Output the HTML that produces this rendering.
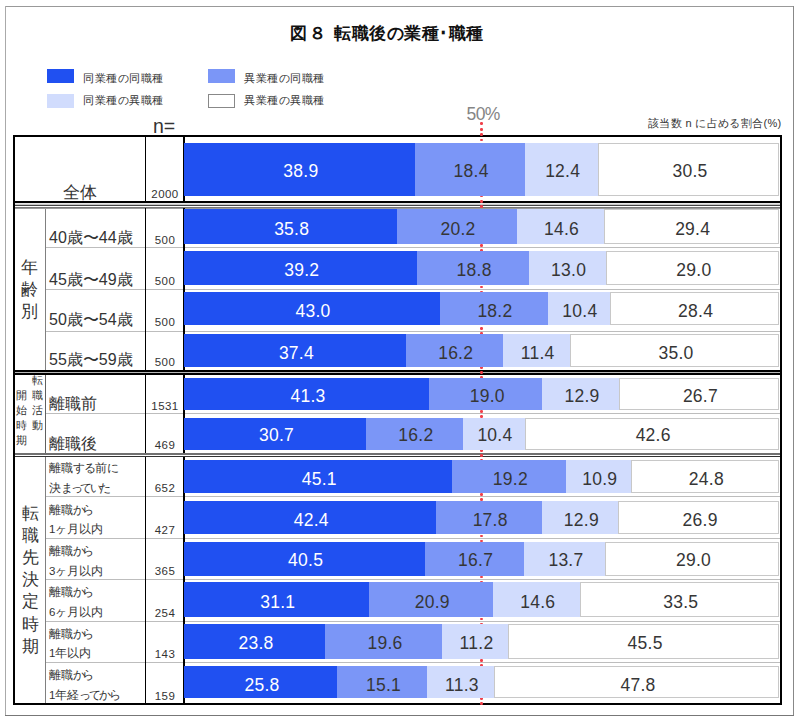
<!DOCTYPE html>
<html><head><meta charset="utf-8">
<style>
*{margin:0;padding:0;box-sizing:border-box}
html,body{width:800px;height:720px;overflow:hidden;background:#fff}
body{position:relative;font-family:"Liberation Sans",sans-serif;color:#333}
.a{position:absolute}
.t{position:absolute;white-space:nowrap;line-height:1}
.bl{position:absolute;white-space:nowrap;line-height:1;font-size:17.5px;letter-spacing:0.25px;text-align:center;color:#363636}
.n{position:absolute;white-space:nowrap;line-height:1;font-size:11.5px;letter-spacing:0.45px;text-align:center;width:39px;left:145.5px;color:#333}
.lb{position:absolute;white-space:nowrap;line-height:1;font-size:16px;left:49px;color:#333}
.ls{position:absolute;white-space:nowrap;line-height:1;font-size:11.5px;left:49px;color:#333}
.g{position:absolute;background:#bdbdbd;height:1px}
.k{position:absolute;background:#000}
</style></head><body>

<div class="a" style="left:5px;top:6px;width:789px;height:1px;background:#999"></div>
<div class="a" style="left:5px;top:6px;width:1px;height:710px;background:#aaa"></div>
<div class="a" style="left:793px;top:6px;width:1px;height:710px;background:#888"></div>
<div class="a" style="left:5px;top:715px;width:789px;height:1px;background:#777"></div>
<div class="t" style="left:290px;top:24.8px;font-size:17px;font-weight:bold;color:#111">図</div>
<div class="t" style="left:309px;top:24.8px;font-size:17px;font-weight:bold;color:#111">８</div>
<div class="t" style="left:334px;top:24.8px;font-size:17px;font-weight:bold;color:#111;letter-spacing:0.5px">転職後の業種･職種</div>
<div class="a" style="left:47px;top:69px;width:27px;height:14px;background:#2050f1;"></div>
<div class="t" style="left:83.2px;top:72.5px;font-size:11px;letter-spacing:0.5px;color:#333">同業種の同職種</div>
<div class="a" style="left:208px;top:69px;width:27px;height:14px;background:#7b96f7;"></div>
<div class="t" style="left:244.2px;top:72.5px;font-size:11px;letter-spacing:0.5px;color:#333">異業種の同職種</div>
<div class="a" style="left:47px;top:94px;width:27px;height:14px;background:#d1dcfd;"></div>
<div class="t" style="left:83.2px;top:95.2px;font-size:11px;letter-spacing:0.5px;color:#333">同業種の異職種</div>
<div class="a" style="left:208px;top:94px;width:27px;height:14px;background:#ffffff;border:1px solid #888;"></div>
<div class="t" style="left:244.2px;top:95.2px;font-size:11px;letter-spacing:0.5px;color:#333">異業種の異職種</div>
<div class="t" style="left:153px;top:117px;font-size:19.5px;color:#333">n=</div>
<div class="t" style="left:466.5px;top:105.5px;font-size:17.5px;color:#858585;letter-spacing:-0.6px">50%</div>
<div class="t" style="left:648px;top:118px;font-size:11px;letter-spacing:0.35px;color:#333">該当数 n に占める割合(%)</div>
<div class="a" style="left:13px;top:135px;width:769px;height:570px;border:2px solid #000"></div>
<div class="k" style="left:15px;top:201px;width:765px;height:2px"></div>
<div class="a" style="left:15px;top:203px;width:765px;height:1px;background:#e6e6e6"></div>
<div class="a" style="left:15px;top:204px;width:765px;height:1px;background:#c8c8c8"></div>
<div class="a" style="left:15px;top:205px;width:765px;height:1px;background:#444"></div>
<div class="a" style="left:15px;top:207px;width:765px;height:1px;background:#777"></div>
<div class="a" style="left:15px;top:208px;width:765px;height:1px;background:#999"></div>
<div class="k" style="left:15px;top:370px;width:765px;height:2px"></div>
<div class="a" style="left:15px;top:372px;width:765px;height:1px;background:#b8b8b8"></div>
<div class="k" style="left:15px;top:373px;width:765px;height:2px"></div>
<div class="a" style="left:15px;top:453px;width:765px;height:2px;background:#707070"></div>
<div class="a" style="left:15px;top:456px;width:765px;height:1px;background:#333"></div>
<div class="g" style="left:46px;top:247px;width:734px"></div>
<div class="g" style="left:46px;top:289px;width:734px"></div>
<div class="g" style="left:46px;top:331px;width:734px"></div>
<div class="g" style="left:46px;top:413px;width:734px"></div>
<div class="g" style="left:46px;top:496px;width:734px"></div>
<div class="g" style="left:46px;top:538px;width:734px"></div>
<div class="g" style="left:46px;top:579px;width:734px"></div>
<div class="g" style="left:46px;top:621px;width:734px"></div>
<div class="g" style="left:46px;top:662px;width:734px"></div>
<div class="k" style="left:145px;top:137px;width:1px;height:64px"></div>
<div class="k" style="left:183px;top:137px;width:2px;height:64px"></div>
<div class="k" style="left:145px;top:208px;width:1px;height:162px"></div>
<div class="k" style="left:183px;top:208px;width:2px;height:162px"></div>
<div class="k" style="left:145px;top:375px;width:1px;height:78px"></div>
<div class="k" style="left:183px;top:375px;width:2px;height:78px"></div>
<div class="k" style="left:145px;top:457px;width:1px;height:246px"></div>
<div class="k" style="left:183px;top:457px;width:2px;height:246px"></div>
<div class="a" style="left:45px;top:209px;width:1px;height:161px;background:#808080"></div>
<div class="a" style="left:45px;top:375px;width:1px;height:78px;background:#606060"></div>
<div class="a" style="left:45px;top:457px;width:1px;height:246px;background:#808080"></div>
<div class="a" style="left:480.2px;top:122.40px;width:2.6px;height:2.7px;background:#f0404a;border-radius:1.2px"></div><div class="a" style="left:480.2px;top:127.90px;width:2.6px;height:2.7px;background:#f0404a;border-radius:1.2px"></div><div class="a" style="left:480.2px;top:133.30px;width:2.6px;height:2.7px;background:#f0404a;border-radius:1.2px"></div><div class="a" style="left:480.2px;top:138.75px;width:2.6px;height:2.7px;background:#f0404a;border-radius:1.2px"></div><div class="a" style="left:480.2px;top:194.65px;width:2.6px;height:2.7px;background:#f0404a;border-radius:1.2px"></div><div class="a" style="left:480.2px;top:199.85px;width:2.6px;height:2.7px;background:#f0404a;border-radius:1.2px"></div><div class="a" style="left:480.2px;top:205.15px;width:2.6px;height:2.7px;background:#f0404a;border-radius:1.2px"></div><div class="a" style="left:480.2px;top:366.15px;width:2.6px;height:2.7px;background:#f0404a;border-radius:1.2px"></div><div class="a" style="left:480.2px;top:371.15px;width:2.6px;height:2.7px;background:#f0404a;border-radius:1.2px"></div><div class="a" style="left:480.2px;top:376.15px;width:2.6px;height:2.7px;background:#f0404a;border-radius:1.2px"></div><div class="a" style="left:480.2px;top:449.15px;width:2.6px;height:2.7px;background:#f0404a;border-radius:1.2px"></div><div class="a" style="left:480.2px;top:454.15px;width:2.6px;height:2.7px;background:#f0404a;border-radius:1.2px"></div><div class="a" style="left:480.2px;top:459.15px;width:2.6px;height:2.7px;background:#f0404a;border-radius:1.2px"></div><div class="a" style="left:480.2px;top:696.95px;width:2.6px;height:2.7px;background:#f0404a;border-radius:1.2px"></div><div class="a" style="left:480.2px;top:701.95px;width:2.6px;height:2.7px;background:#f0404a;border-radius:1.2px"></div><div class="a" style="left:480.2px;top:243.85px;width:2.6px;height:2.7px;background:#f0404a;border-radius:1.2px"></div><div class="a" style="left:480.2px;top:248.95px;width:2.6px;height:2.7px;background:#f0404a;border-radius:1.2px"></div><div class="a" style="left:480.2px;top:285.60px;width:2.6px;height:2.7px;background:#f0404a;border-radius:1.2px"></div><div class="a" style="left:480.2px;top:290.70px;width:2.6px;height:2.7px;background:#f0404a;border-radius:1.2px"></div><div class="a" style="left:480.2px;top:327.10px;width:2.6px;height:2.7px;background:#f0404a;border-radius:1.2px"></div><div class="a" style="left:480.2px;top:332.20px;width:2.6px;height:2.7px;background:#f0404a;border-radius:1.2px"></div><div class="a" style="left:480.2px;top:410.10px;width:2.6px;height:2.7px;background:#f0404a;border-radius:1.2px"></div><div class="a" style="left:480.2px;top:415.20px;width:2.6px;height:2.7px;background:#f0404a;border-radius:1.2px"></div><div class="a" style="left:480.2px;top:492.85px;width:2.6px;height:2.7px;background:#f0404a;border-radius:1.2px"></div><div class="a" style="left:480.2px;top:497.95px;width:2.6px;height:2.7px;background:#f0404a;border-radius:1.2px"></div><div class="a" style="left:480.2px;top:534.50px;width:2.6px;height:2.7px;background:#f0404a;border-radius:1.2px"></div><div class="a" style="left:480.2px;top:539.60px;width:2.6px;height:2.7px;background:#f0404a;border-radius:1.2px"></div><div class="a" style="left:480.2px;top:575.60px;width:2.6px;height:2.7px;background:#f0404a;border-radius:1.2px"></div><div class="a" style="left:480.2px;top:580.70px;width:2.6px;height:2.7px;background:#f0404a;border-radius:1.2px"></div><div class="a" style="left:480.2px;top:617.50px;width:2.6px;height:2.7px;background:#f0404a;border-radius:1.2px"></div><div class="a" style="left:480.2px;top:622.60px;width:2.6px;height:2.7px;background:#f0404a;border-radius:1.2px"></div><div class="a" style="left:480.2px;top:659.00px;width:2.6px;height:2.7px;background:#f0404a;border-radius:1.2px"></div><div class="a" style="left:480.2px;top:664.10px;width:2.6px;height:2.7px;background:#f0404a;border-radius:1.2px"></div>
<div class="a" style="left:184.00px;top:143px;width:231.18px;height:53.00px;background:#2050f1;"></div>
<div class="bl" style="left:185.30px;width:231.18px;top:162.70px;color:#fff">38.9</div>
<div class="a" style="left:415.18px;top:143px;width:109.35px;height:53.00px;background:#7b96f7;"></div>
<div class="bl" style="left:416.48px;width:109.35px;top:162.70px;color:#363636">18.4</div>
<div class="a" style="left:524.53px;top:143px;width:73.69px;height:53.00px;background:#d1dcfd;"></div>
<div class="bl" style="left:525.83px;width:73.69px;top:162.70px;color:#363636">12.4</div>
<div class="a" style="left:598.23px;top:143px;width:180.97px;height:53.00px;background:#ffffff;border:1px solid #c8c8c8;"></div>
<div class="bl" style="left:599.53px;width:180.97px;top:162.70px;color:#363636">30.5</div>
<div class="n" style="top:189.3px">2000</div>
<div class="a" style="left:184.00px;top:209px;width:212.76px;height:35.00px;background:#2050f1;"></div>
<div class="bl" style="left:185.30px;width:212.76px;top:220.70px;color:#fff">35.8</div>
<div class="a" style="left:396.76px;top:209px;width:120.05px;height:35.00px;background:#7b96f7;"></div>
<div class="bl" style="left:398.06px;width:120.05px;top:220.70px;color:#363636">20.2</div>
<div class="a" style="left:516.81px;top:209px;width:86.77px;height:35.00px;background:#d1dcfd;"></div>
<div class="bl" style="left:518.11px;width:86.77px;top:220.70px;color:#363636">14.6</div>
<div class="a" style="left:603.58px;top:209px;width:175.62px;height:35.00px;background:#ffffff;border:1px solid #c8c8c8;"></div>
<div class="bl" style="left:604.88px;width:175.62px;top:220.70px;color:#363636">29.4</div>
<div class="n" style="top:234.9px">500</div>
<div class="a" style="left:184.00px;top:251px;width:232.97px;height:34.00px;background:#2050f1;"></div>
<div class="bl" style="left:185.30px;width:232.97px;top:261.90px;color:#fff">39.2</div>
<div class="a" style="left:416.97px;top:251px;width:111.73px;height:34.00px;background:#7b96f7;"></div>
<div class="bl" style="left:418.27px;width:111.73px;top:261.90px;color:#363636">18.8</div>
<div class="a" style="left:528.69px;top:251px;width:77.26px;height:34.00px;background:#d1dcfd;"></div>
<div class="bl" style="left:529.99px;width:77.26px;top:261.90px;color:#363636">13.0</div>
<div class="a" style="left:605.95px;top:251px;width:173.25px;height:34.00px;background:#ffffff;border:1px solid #c8c8c8;"></div>
<div class="bl" style="left:607.25px;width:173.25px;top:261.90px;color:#363636">29.0</div>
<div class="n" style="top:276.3px">500</div>
<div class="a" style="left:184.00px;top:292px;width:255.55px;height:33.00px;background:#2050f1;"></div>
<div class="bl" style="left:185.30px;width:255.55px;top:302.70px;color:#fff">43.0</div>
<div class="a" style="left:439.55px;top:292px;width:108.16px;height:33.00px;background:#7b96f7;"></div>
<div class="bl" style="left:440.85px;width:108.16px;top:302.70px;color:#363636">18.2</div>
<div class="a" style="left:547.71px;top:292px;width:61.81px;height:33.00px;background:#d1dcfd;"></div>
<div class="bl" style="left:549.01px;width:61.81px;top:302.70px;color:#363636">10.4</div>
<div class="a" style="left:609.52px;top:292px;width:169.68px;height:33.00px;background:#ffffff;border:1px solid #c8c8c8;"></div>
<div class="bl" style="left:610.82px;width:169.68px;top:302.70px;color:#363636">28.4</div>
<div class="n" style="top:317.4px">500</div>
<div class="a" style="left:184.00px;top:334px;width:222.27px;height:33.00px;background:#2050f1;"></div>
<div class="bl" style="left:185.30px;width:222.27px;top:344.70px;color:#fff">37.4</div>
<div class="a" style="left:406.27px;top:334px;width:96.28px;height:33.00px;background:#7b96f7;"></div>
<div class="bl" style="left:407.57px;width:96.28px;top:344.70px;color:#363636">16.2</div>
<div class="a" style="left:502.54px;top:334px;width:67.75px;height:33.00px;background:#d1dcfd;"></div>
<div class="bl" style="left:503.84px;width:67.75px;top:344.70px;color:#363636">11.4</div>
<div class="a" style="left:570.29px;top:334px;width:208.91px;height:33.00px;background:#ffffff;border:1px solid #c8c8c8;"></div>
<div class="bl" style="left:571.59px;width:208.91px;top:344.70px;color:#363636">35.0</div>
<div class="n" style="top:357.4px">500</div>
<div class="a" style="left:184.00px;top:378px;width:245.45px;height:32.00px;background:#2050f1;"></div>
<div class="bl" style="left:185.30px;width:245.45px;top:388.10px;color:#fff">41.3</div>
<div class="a" style="left:429.45px;top:378px;width:112.92px;height:32.00px;background:#7b96f7;"></div>
<div class="bl" style="left:430.75px;width:112.92px;top:388.10px;color:#363636">19.0</div>
<div class="a" style="left:542.36px;top:378px;width:76.66px;height:32.00px;background:#d1dcfd;"></div>
<div class="bl" style="left:543.66px;width:76.66px;top:388.10px;color:#363636">12.9</div>
<div class="a" style="left:619.03px;top:378px;width:160.17px;height:32.00px;background:#ffffff;border:1px solid #c8c8c8;"></div>
<div class="bl" style="left:620.33px;width:160.17px;top:388.10px;color:#363636">26.7</div>
<div class="n" style="top:400.5px">1531</div>
<div class="a" style="left:184.00px;top:418px;width:182.45px;height:32.00px;background:#2050f1;"></div>
<div class="bl" style="left:185.30px;width:182.45px;top:427.10px;color:#fff">30.7</div>
<div class="a" style="left:366.45px;top:418px;width:96.28px;height:32.00px;background:#7b96f7;"></div>
<div class="bl" style="left:367.75px;width:96.28px;top:427.10px;color:#363636">16.2</div>
<div class="a" style="left:462.73px;top:418px;width:61.81px;height:32.00px;background:#d1dcfd;"></div>
<div class="bl" style="left:464.03px;width:61.81px;top:427.10px;color:#363636">10.4</div>
<div class="a" style="left:524.53px;top:418px;width:254.67px;height:32.00px;background:#ffffff;border:1px solid #c8c8c8;"></div>
<div class="bl" style="left:525.83px;width:254.67px;top:427.10px;color:#363636">42.6</div>
<div class="n" style="top:440.4px">469</div>
<div class="a" style="left:184.00px;top:460px;width:268.03px;height:33.00px;background:#2050f1;"></div>
<div class="bl" style="left:185.30px;width:268.03px;top:470.60px;color:#fff">45.1</div>
<div class="a" style="left:452.03px;top:460px;width:114.11px;height:33.00px;background:#7b96f7;"></div>
<div class="bl" style="left:453.33px;width:114.11px;top:470.60px;color:#363636">19.2</div>
<div class="a" style="left:566.13px;top:460px;width:64.78px;height:33.00px;background:#d1dcfd;"></div>
<div class="bl" style="left:567.43px;width:64.78px;top:470.60px;color:#363636">10.9</div>
<div class="a" style="left:630.91px;top:460px;width:148.29px;height:33.00px;background:#ffffff;border:1px solid #c8c8c8;"></div>
<div class="bl" style="left:632.21px;width:148.29px;top:470.60px;color:#363636">24.8</div>
<div class="n" style="top:483.4px">652</div>
<div class="a" style="left:184.00px;top:501px;width:251.98px;height:33.00px;background:#2050f1;"></div>
<div class="bl" style="left:185.30px;width:251.98px;top:511.50px;color:#fff">42.4</div>
<div class="a" style="left:435.98px;top:501px;width:105.79px;height:33.00px;background:#7b96f7;"></div>
<div class="bl" style="left:437.28px;width:105.79px;top:511.50px;color:#363636">17.8</div>
<div class="a" style="left:541.77px;top:501px;width:76.66px;height:33.00px;background:#d1dcfd;"></div>
<div class="bl" style="left:543.07px;width:76.66px;top:511.50px;color:#363636">12.9</div>
<div class="a" style="left:618.43px;top:501px;width:160.77px;height:33.00px;background:#ffffff;border:1px solid #c8c8c8;"></div>
<div class="bl" style="left:619.73px;width:160.77px;top:511.50px;color:#363636">26.9</div>
<div class="n" style="top:524.5px">427</div>
<div class="a" style="left:184.00px;top:542px;width:240.69px;height:34.00px;background:#2050f1;"></div>
<div class="bl" style="left:185.30px;width:240.69px;top:552.30px;color:#fff">40.5</div>
<div class="a" style="left:424.69px;top:542px;width:99.25px;height:34.00px;background:#7b96f7;"></div>
<div class="bl" style="left:425.99px;width:99.25px;top:552.30px;color:#363636">16.7</div>
<div class="a" style="left:523.94px;top:542px;width:81.42px;height:34.00px;background:#d1dcfd;"></div>
<div class="bl" style="left:525.24px;width:81.42px;top:552.30px;color:#363636">13.7</div>
<div class="a" style="left:605.36px;top:542px;width:173.84px;height:34.00px;background:#ffffff;border:1px solid #c8c8c8;"></div>
<div class="bl" style="left:606.66px;width:173.84px;top:552.30px;color:#363636">29.0</div>
<div class="n" style="top:566.0px">365</div>
<div class="a" style="left:184.00px;top:582px;width:184.83px;height:35.00px;background:#2050f1;"></div>
<div class="bl" style="left:185.30px;width:184.83px;top:593.60px;color:#fff">31.1</div>
<div class="a" style="left:368.83px;top:582px;width:124.21px;height:35.00px;background:#7b96f7;"></div>
<div class="bl" style="left:370.13px;width:124.21px;top:593.60px;color:#363636">20.9</div>
<div class="a" style="left:493.04px;top:582px;width:86.77px;height:35.00px;background:#d1dcfd;"></div>
<div class="bl" style="left:494.34px;width:86.77px;top:593.60px;color:#363636">14.6</div>
<div class="a" style="left:579.80px;top:582px;width:199.40px;height:35.00px;background:#ffffff;border:1px solid #c8c8c8;"></div>
<div class="bl" style="left:581.10px;width:199.40px;top:593.60px;color:#363636">33.5</div>
<div class="n" style="top:608.0px">254</div>
<div class="a" style="left:184.00px;top:624px;width:141.44px;height:35.00px;background:#2050f1;"></div>
<div class="bl" style="left:185.30px;width:141.44px;top:635.00px;color:#fff">23.8</div>
<div class="a" style="left:325.44px;top:624px;width:116.48px;height:35.00px;background:#7b96f7;"></div>
<div class="bl" style="left:326.74px;width:116.48px;top:635.00px;color:#363636">19.6</div>
<div class="a" style="left:441.93px;top:624px;width:66.56px;height:35.00px;background:#d1dcfd;"></div>
<div class="bl" style="left:443.23px;width:66.56px;top:635.00px;color:#363636">11.2</div>
<div class="a" style="left:508.49px;top:624px;width:270.71px;height:35.00px;background:#ffffff;border:1px solid #c8c8c8;"></div>
<div class="bl" style="left:509.79px;width:270.71px;top:635.00px;color:#363636">45.5</div>
<div class="n" style="top:649.3px">143</div>
<div class="a" style="left:184.00px;top:666px;width:153.33px;height:32.00px;background:#2050f1;"></div>
<div class="bl" style="left:185.30px;width:153.33px;top:676.70px;color:#fff">25.8</div>
<div class="a" style="left:337.33px;top:666px;width:89.74px;height:32.00px;background:#7b96f7;"></div>
<div class="bl" style="left:338.63px;width:89.74px;top:676.70px;color:#363636">15.1</div>
<div class="a" style="left:427.07px;top:666px;width:67.16px;height:32.00px;background:#d1dcfd;"></div>
<div class="bl" style="left:428.37px;width:67.16px;top:676.70px;color:#363636">11.3</div>
<div class="a" style="left:494.22px;top:666px;width:284.98px;height:32.00px;background:#ffffff;border:1px solid #c8c8c8;"></div>
<div class="bl" style="left:495.52px;width:284.98px;top:676.70px;color:#363636">47.8</div>
<div class="n" style="top:690.6px">159</div>
<div class="lb" style="left:63px;top:183.5px;font-size:17px">全体</div>
<div class="lb" style="top:229.7px">40歳〜44歳</div>
<div class="lb" style="top:271.5px">45歳〜49歳</div>
<div class="lb" style="top:311.8px">50歳〜54歳</div>
<div class="lb" style="top:352.2px">55歳〜59歳</div>
<div class="lb" style="top:395.9px">離職前</div>
<div class="lb" style="top:435.6px">離職後</div>
<div class="ls" style="top:463.4px">離職<span style="letter-spacing:-1.0px">する</span>前<span style="letter-spacing:-1.0px">に</span></div>
<div class="ls" style="top:482.6px">決<span style="letter-spacing:-2.5px">まっていた</span></div>
<div class="ls" style="top:504.5px">離職<span style="letter-spacing:-2.8px">から</span></div>
<div class="ls" style="top:523.8px">1ヶ月以内</div>
<div class="ls" style="top:546.0px">離職<span style="letter-spacing:-2.8px">から</span></div>
<div class="ls" style="top:565.5px">3ヶ月以内</div>
<div class="ls" style="top:587.3px">離職<span style="letter-spacing:-2.8px">から</span></div>
<div class="ls" style="top:606.8px">6ヶ月以内</div>
<div class="ls" style="top:628.6px">離職<span style="letter-spacing:-2.8px">から</span></div>
<div class="ls" style="top:648.1px">1年以内</div>
<div class="ls" style="top:669.9px">離職<span style="letter-spacing:-2.8px">から</span></div>
<div class="ls" style="top:690.0px">1年経<span style="letter-spacing:-2.0px">ってから</span></div>
<div class="t" style="left:21px;top:258.5px;font-size:17px;color:#333">年</div>
<div class="t" style="left:21px;top:280.5px;font-size:17px;color:#333">齢</div>
<div class="t" style="left:21px;top:302.5px;font-size:17px;color:#333">別</div>
<div class="t" style="left:31.5px;top:375px;font-size:11px;color:#333">転</div>
<div class="t" style="left:31.5px;top:390px;font-size:11px;color:#333">職</div>
<div class="t" style="left:31.5px;top:405px;font-size:11px;color:#333">活</div>
<div class="t" style="left:31.5px;top:420px;font-size:11px;color:#333">動</div>
<div class="t" style="left:16px;top:390px;font-size:11px;color:#333">開</div>
<div class="t" style="left:16px;top:405px;font-size:11px;color:#333">始</div>
<div class="t" style="left:16px;top:420px;font-size:11px;color:#333">時</div>
<div class="t" style="left:16px;top:435px;font-size:11px;color:#333">期</div>
<div class="t" style="left:21.5px;top:505.0px;font-size:16.5px;color:#333">転</div>
<div class="t" style="left:21.5px;top:527.1px;font-size:16.5px;color:#333">職</div>
<div class="t" style="left:21.5px;top:549.2px;font-size:16.5px;color:#333">先</div>
<div class="t" style="left:21.5px;top:571.3px;font-size:16.5px;color:#333">決</div>
<div class="t" style="left:21.5px;top:593.4px;font-size:16.5px;color:#333">定</div>
<div class="t" style="left:21.5px;top:615.5px;font-size:16.5px;color:#333">時</div>
<div class="t" style="left:21.5px;top:637.6px;font-size:16.5px;color:#333">期</div>
</body></html>
